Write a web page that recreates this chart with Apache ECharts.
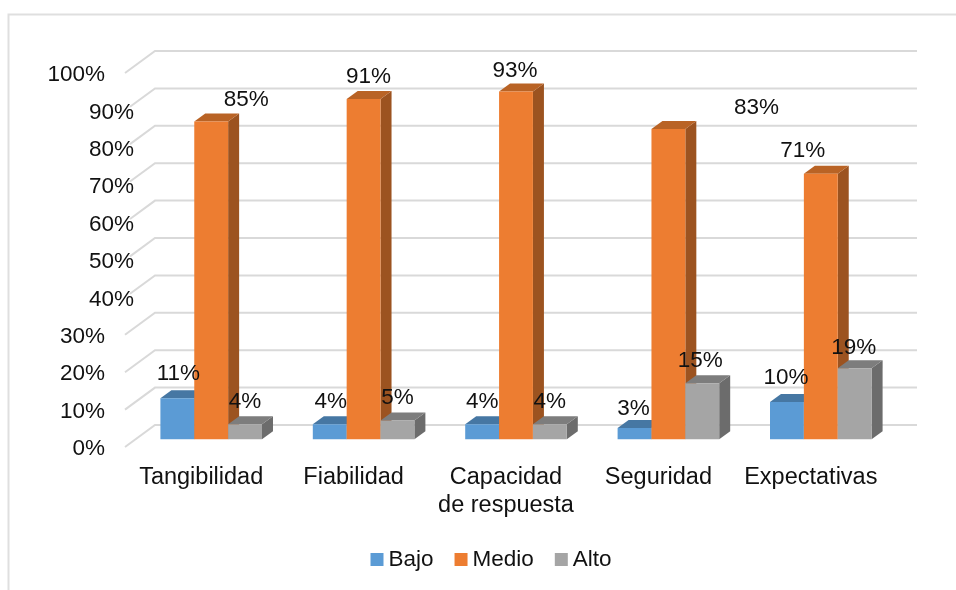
<!DOCTYPE html>
<html lang="es">
<head>
<meta charset="utf-8">
<title>Dimensiones por nivel</title>
<style>
  html, body { margin: 0; padding: 0; background: #fff; }
  #chart { width: 956px; height: 590px; }
</style>
</head>
<body>
<div id="chart"></div>
<script src="https://cdn.jsdelivr.net/npm/echarts@6/dist/echarts.min.js"></script>
<script>
// Valores del gráfico
const categories = ['Tangibilidad', 'Fiabilidad', 'Capacidad\nde respuesta', 'Seguridad', 'Expectativas'];
const bajo = [11, 4, 4, 3, 10];
const medio = [85, 91, 93, 83, 71];
const alto = [4, 5, 4, 15, 19];
const yTicks = [0, 10, 20, 30, 40, 50, 60, 70, 80, 90, 100];

// Estilo y geometría del falso 3D
const FONT = '"Liberation Sans", Arial, sans-serif';
const FONT_SIZE = 22.5;
const CATEGORY_FONT_SIZE = 23.5;
const TEXT = '#111111';
const GRID_COLOR = '#d9d9d9';
const WALL_DX = 30, WALL_DY = 22;      // del plano frontal a la pared del fondo
const BAR_DX = 10, BAR_DY = 7.7;       // del plano frontal a la cara de la barra
const SIDE_DX = 11, SIDE_DY = 8;       // profundidad de cada barra
const BAR_SHARE = 0.2222;              // ancho de barra respecto a la categoría
const insetTicks = [40, 50, 60, 70, 80, 90];   // líneas que arrancan detrás de la etiqueta
const nearTicks = [40, 50, 60, 70, 80, 90];    // etiquetas pegadas al eje

const palettes = {
  Bajo:  { front: '#5b9bd5', top: '#4677a3', side: '#41719c' },
  Medio: { front: '#ed7d31', top: '#b96325', side: '#9c5320' },
  Alto:  { front: '#a5a5a5', top: '#7d7d7d', side: '#6c6c6c' }
};

// Desplazamiento de cada etiqueta de dato respecto al centro de la cara superior
const labelShift = {
  Bajo:  [[1, -24], [1, -23], [0, -23], [-1, -19], [-1, -24]],
  Medio: [[35, -22], [5, -22], [-1, -20.5], [88, -21], [-18, -23]],
  Alto:  [[0, -23], [0, -23], [0, -23], [-2, -22], [-1, -20]]
};

const levels = [
  { name: 'Bajo', values: bajo },
  { name: 'Medio', values: medio },
  { name: 'Alto', values: alto }
];

function renderWall(params, api) {
  const tick = api.value(0);
  const cs = params.coordSys;
  const p = api.coord([0, tick]);
  const y = p[1];
  const x0 = cs.x;
  const inset = insetTicks.includes(tick) ? 5 : 0;
  return {
    type: 'polyline',
    shape: {
      points: [
        [x0 + inset, y - inset * WALL_DY / WALL_DX],
        [x0 + WALL_DX, y - WALL_DY],
        [x0 + cs.width + WALL_DX, y - WALL_DY]
      ]
    },
    style: { fill: null, stroke: GRID_COLOR, lineWidth: 2 },
    silent: true
  };
}

function barRenderer(levelIndex, colors) {
  return function (params, api) {
    const cat = api.value(0);
    const val = api.value(1);
    const band = api.size([1, 0])[0];
    const w = band * BAR_SHARE;
    const top = api.coord([cat, val]);
    const base = api.coord([cat, 0]);
    const x0 = top[0] + BAR_DX + (levelIndex - 1.5) * w;
    const x1 = x0 + w;
    const yTop = top[1] - BAR_DY;
    const yBase = base[1] - BAR_DY;
    return {
      type: 'group',
      children: [
        {
          type: 'polygon',
          shape: { points: [[x1, yTop], [x1 + SIDE_DX, yTop - SIDE_DY], [x1 + SIDE_DX, yBase - SIDE_DY], [x1, yBase]] },
          style: { fill: colors.side }
        },
        {
          type: 'polygon',
          shape: { points: [[x0, yTop], [x0 + SIDE_DX, yTop - SIDE_DY], [x1 + SIDE_DX, yTop - SIDE_DY], [x1, yTop]] },
          style: { fill: colors.top }
        },
        {
          type: 'rect',
          shape: { x: x0, y: yTop, width: w, height: yBase - yTop },
          style: { fill: colors.front }
        }
      ]
    };
  };
}

function labelRenderer(levelIndex, shifts) {
  return function (params, api) {
    const cat = api.value(0);
    const val = api.value(1);
    const band = api.size([1, 0])[0];
    const w = band * BAR_SHARE;
    const top = api.coord([cat, val]);
    const shift = shifts[cat];
    return {
      type: 'text',
      x: top[0] + BAR_DX + (levelIndex - 1) * w + shift[0],
      y: top[1] - BAR_DY + shift[1],
      style: {
        text: val + '%',
        fill: TEXT,
        font: FONT_SIZE + 'px ' + FONT,
        align: 'center',
        verticalAlign: 'middle'
      },
      silent: true
    };
  };
}

const barSeries = levels.map((level, i) => ({
  type: 'custom',
  name: level.name,
  z: 2 + i,
  clip: false,
  itemStyle: { color: palettes[level.name].front },
  renderItem: barRenderer(i, palettes[level.name]),
  encode: { x: 0, y: 1 },
  data: level.values.map((v, c) => [c, v])
}));

const labelSeries = levels.map((level, i) => ({
  type: 'custom',
  name: level.name + ' etiqueta',
  z: 10,
  clip: false,
  silent: true,
  renderItem: labelRenderer(i, labelShift[level.name]),
  encode: { x: 0, y: 1 },
  data: level.values.map((v, c) => [c, v])
}));

const wallSeries = {
  type: 'custom',
  name: 'Cuadrícula',
  z: 1,
  clip: false,
  silent: true,
  renderItem: renderWall,
  encode: { y: 0 },
  data: yTicks.map(t => [t])
};

const chart = echarts.init(document.getElementById('chart'), null, { renderer: 'canvas' });
chart.setOption({
  animation: false,
  backgroundColor: '#ffffff',
  textStyle: { fontFamily: FONT },
  grid: { left: 125, top: 73, width: 762, height: 374, containLabel: false },
  xAxis: {
    type: 'category',
    data: categories,
    axisLine: { show: false },
    axisTick: { show: false },
    splitLine: { show: false },
    axisLabel: {
      show: true, interval: 0, margin: 17,
      color: TEXT, fontFamily: FONT, fontSize: CATEGORY_FONT_SIZE, lineHeight: 28,
      verticalAlign: 'top'
    }
  },
  yAxis: {
    type: 'value',
    min: 0, max: 100, interval: 10,
    z: 6,
    axisLine: { show: false },
    axisTick: { show: false },
    splitLine: { show: false },
    axisLabel: {
      show: true,
      margin: -9,
      formatter: v => nearTicks.includes(v) ? `{near|${v}%}` : `{far|${v}%}`,
      rich: {
        near: { fontFamily: FONT, fontSize: FONT_SIZE, color: TEXT, padding: [4, 0, 0, 0] },
        far: { fontFamily: FONT, fontSize: FONT_SIZE, color: TEXT, padding: [4, 29, 0, 0] }
      }
    }
  },
  legend: {
    left: 370.5, top: 548,
    icon: 'rect',
    itemWidth: 13, itemHeight: 13, itemGap: 21,
    padding: 0,
    data: levels.map(l => l.name),
    selectedMode: false,
    textStyle: { color: TEXT, fontFamily: FONT, fontSize: FONT_SIZE }
  },
  graphic: [
    {
      type: 'polyline',
      silent: true,
      shape: { points: [[8.5, 590], [8.5, 14.5], [956, 14.5]] },
      style: { fill: null, stroke: '#dfdfdf', lineWidth: 2 }
    }
  ],
  series: [wallSeries, ...barSeries, ...labelSeries]
});
</script>
</body>
</html>
